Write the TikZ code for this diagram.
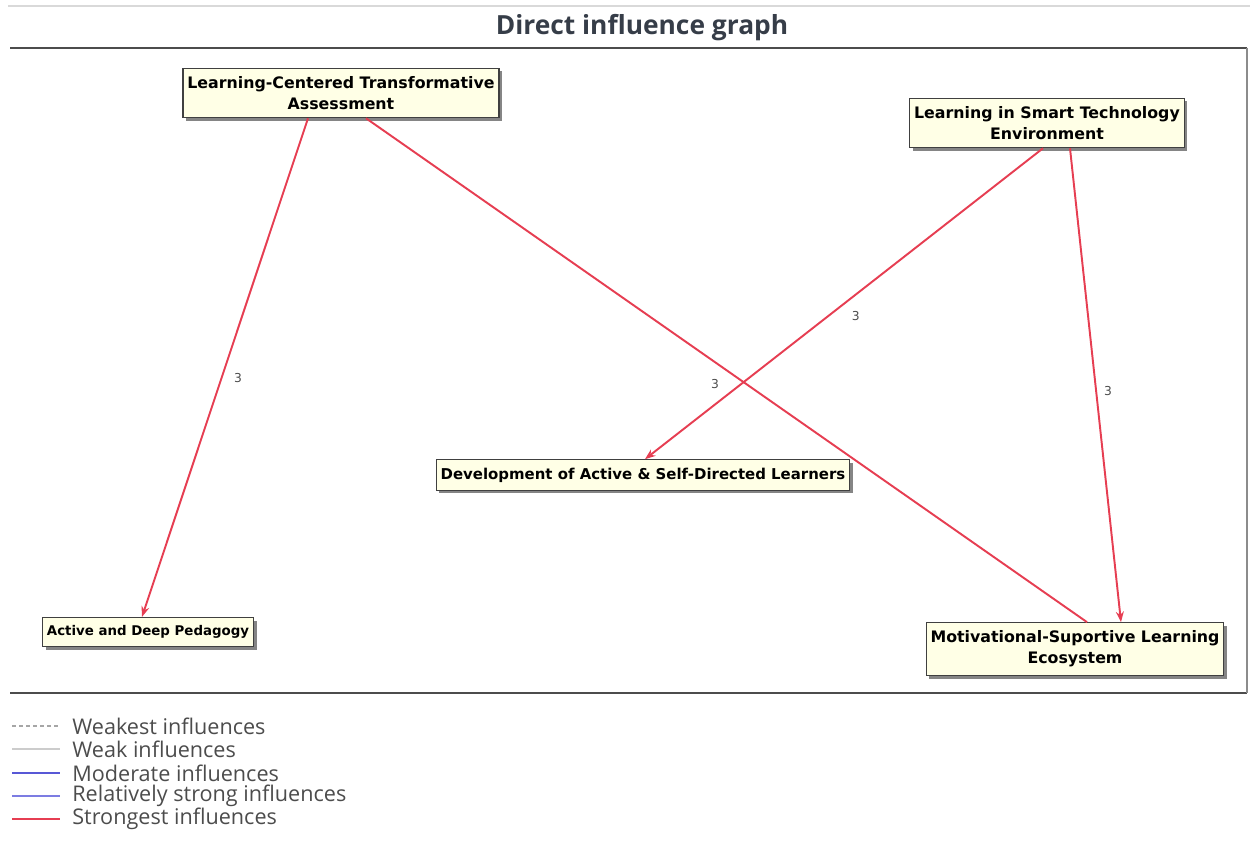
\documentclass[tikz,border=0pt]{standalone}
\usepackage{fontspec}
\setmainfont{DejaVu Sans}
\newfontfamily\legendfont{Open Sans}
\usetikzlibrary{shadows,arrows.meta}

\definecolor{boxfill}{HTML}{FFFFE6}
\definecolor{infred}{HTML}{E63E52}
\definecolor{modblue}{HTML}{5858D6}
\definecolor{relblue}{HTML}{7C7CE2}
\definecolor{titlegray}{HTML}{363D48}

\def\unit{.02}

\begin{document}
\begin{tikzpicture}[x=\unit cm, y=-\unit cm,
    factor/.style={draw=black!75, line width=.6pt, fill=boxfill, align=center,
      font=\bfseries\fontsize{#1}{12}\selectfont, inner xsep=2.5pt, inner ysep=4.6pt,
      drop shadow={shadow xshift=1.8pt, shadow yshift=-1.8pt, fill=black!60, opacity=.8}},
    factor/.default=9,
    strongest/.style={draw=infred, line width=1.1pt},
    tip/.style={-{Stealth[length=6pt, width=4.5pt]}},
    weight/.style={font=\fontsize{7}{8}\selectfont, text=black!70, inner sep=1pt},
    legend/.style={anchor=west, font=\legendfont\fontsize{12.3}{14}\selectfont, text=black!70, inner sep=0pt}]
      \useasboundingbox (0,0) rectangle (1250,841);
      \clip (0,0) rectangle (1250,841);
      \draw[black!15, line width=1pt] (8,6) -- (1250,6);
      \node[font=\legendfont\bfseries\fontsize{15}{18}\selectfont, text=titlegray] (title) at (642,28) {Direct influence graph};
      \draw[black!70, line width=1.2pt] (10,48) -- (1247,48);
      \draw[black!70, line width=1.2pt] (10,693) -- (1247,693);
      \draw[black!45, line width=.6pt] (1247,48) -- (1247,693);

      \node[factor] (assessment) at (341,93) {Learning-Centered Transformative\\Assessment};
      \node[factor] (smarttech) at (1047,123) {Learning in Smart Technology\\Environment};
      \node[factor=8.5] (learners) at (643,475) {Development of Active \& Self-Directed Learners};
      \node[factor=7.6] (pedagogy) at (148,632) {Active and Deep Pedagogy};
      \node[factor] (ecosystem) at (1075,649) {Motivational-Suportive Learning\\Ecosystem};

      \draw[strongest, tip] ([xshift=-.66cm]assessment.south) -- node[weight, pos=.52, right=5.5pt] {3} ([xshift=-.12cm]pedagogy.north);
      \draw[strongest] ([xshift=.5cm]assessment.south) -- node[weight, pos=.484, below=8.5pt] {3} ([xshift=.24cm]ecosystem.north);
      \draw[strongest, tip] ([xshift=-.08cm]smarttech.south) -- node[weight, pos=.54, right=12pt] {3} ([xshift=.04cm]learners.north);
      \draw[strongest, tip] ([xshift=.46cm]smarttech.south) -- node[weight, pos=.513, right=3pt] {3} ([xshift=.92cm]ecosystem.north);

      \draw[black!35, line width=.8pt, dash pattern=on 2pt off 2pt] (12,726) -- (60,726);
      \node[legend] (weakest) at (72,726) {Weakest influences};
      \draw[black!20, line width=.8pt] (12,749) -- (60,749);
      \node[legend] (weak) at (72,749) {Weak influences};
      \draw[modblue, line width=1pt] (12,773) -- (60,773);
      \node[legend] (moderate) at (72,773) {Moderate influences};
      \draw[relblue, line width=1pt] (12,796) -- (60,796);
      \node[legend] (relstrong) at (72,796) {Relatively strong influences};
      \draw[infred, line width=1.3pt] (12,819) -- (60,819);
      \node[legend] (strong) at (72,819) {Strongest influences};
\end{tikzpicture}
\end{document}
